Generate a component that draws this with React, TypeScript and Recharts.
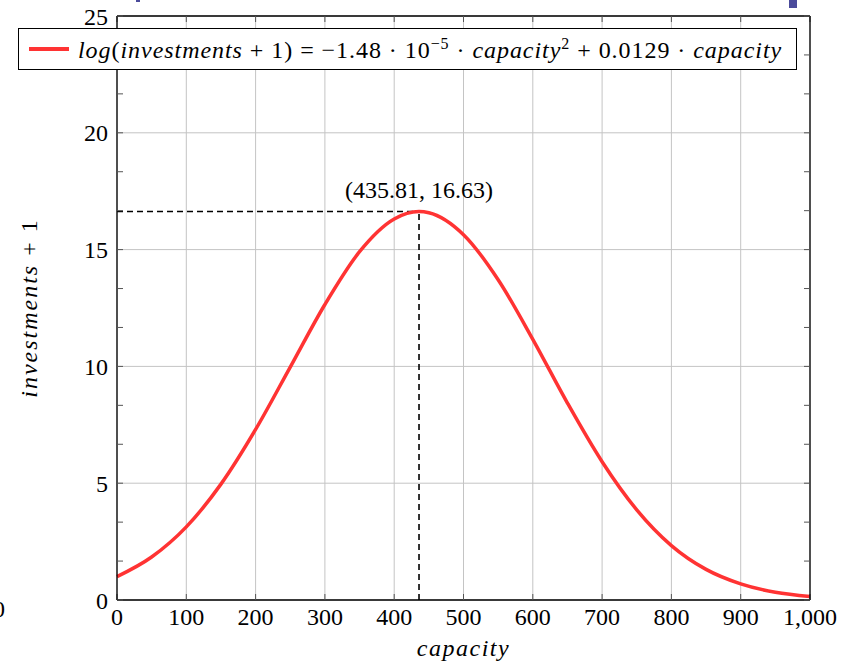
import { LineChart, Line, XAxis, YAxis, CartesianGrid, ReferenceLine, ReferenceDot } from 'recharts';

const FONT = '"Liberation Serif", "DejaVu Serif", serif';

// values
const capacity = [0, 50, 100, 150, 200, 250, 300, 350, 400, 435.81, 450, 500, 550, 600, 650, 700, 750, 800, 850, 900, 950, 1000];
const investments = [1.0, 1.84, 3.13, 4.96, 7.3, 9.97, 12.65, 14.91, 16.31, 16.63, 16.58, 15.64, 13.71, 11.16, 8.43, 5.92, 3.86, 2.33, 1.31, 0.69, 0.33, 0.15];

const xTicks = [0, 100, 200, 300, 400, 500, 600, 700, 800, 900, 1000];
const yTicks = [0, 5, 10, 15, 20, 25];
// pgfplots style: 2 minor ticks between majors
const xMinorTicks = Array.from({ length: 31 }, (_, i) => (i * 100) / 3);
const yMinorTicks = Array.from({ length: 16 }, (_, i) => (i * 5) / 3);

const peakX = 435.81;
const peakY = 16.63;

const data = capacity.map((c, i) => ({ capacity: c, investments: investments[i] }));

const noLabel = () => <g />;

const YTitle = ({ viewBox }: any) => {
  const cx = viewBox.x + 31;
  const cy = viewBox.y + viewBox.height / 2;
  return (
    <g>
      <text
        x={cx}
        y={cy}
        transform={`rotate(-90, ${cx}, ${cy})`}
        textAnchor="middle"
        dominantBaseline="middle"
        fontFamily={FONT}
        fontSize={24}
        letterSpacing={2}
        fill="#000"
      >
        <tspan fontStyle="italic">investments</tspan> + 1
      </text>
      <text x={-7} y={617} fontFamily={FONT} fontSize={24} fill="#000">0</text>
    </g>
  );
};

const XTitle = ({ viewBox }: any) => (
  <text
    x={viewBox.x + viewBox.width / 2}
    y={viewBox.y + 56}
    textAnchor="middle"
    fontFamily={FONT}
    fontSize={24}
    letterSpacing={1.5}
    fontStyle="italic"
    fill="#000"
  >
    capacity
  </text>
);

function LegendBox() {
  const it = { fontStyle: 'italic' as const };
  return (
    <div
      style={{
        position: 'absolute',
        left: 18,
        top: 28,
        width: 777,
        height: 40,
        border: '1px solid #000',
        background: '#fff',
        display: 'flex',
        alignItems: 'center',
        fontFamily: FONT,
        fontSize: 24,
        letterSpacing: 0.95,
        color: '#000',
        whiteSpace: 'nowrap',
      }}
    >
      <div style={{ width: 40, height: 3.5, background: '#ff3333', marginLeft: 10, marginRight: 9 }} />
      <span>
        <span style={it}>log</span>(<span style={it}>investments</span> + 1) = −1.48 · 10
        <sup style={{ fontSize: 16 }}>−5</sup> · <span style={it}>capacity</span>
        <sup style={{ fontSize: 16 }}>2</sup> + 0.0129 · <span style={it}>capacity</span>
      </span>
    </div>
  );
}

export default function App() {
  return (
    <div style={{ position: 'fixed', left: 0, top: 0, width: 843, height: 662, background: '#fff', overflow: 'hidden' }}>
      <LineChart width={843} height={662} data={data} margin={{ top: 16, right: 33, bottom: 0, left: 0 }}>
        <CartesianGrid stroke="#c4c4c4" strokeWidth={1} />
        <XAxis
          dataKey="capacity"
          type="number"
          domain={[0, 1000]}
          ticks={xTicks}
          tickFormatter={(v: number) => (v === 1000 ? '1,000' : String(v))}
          tickLine={false}
          axisLine={{ stroke: '#000', strokeWidth: 1.3 }}
          height={62}
          tick={{ fill: '#000', fontSize: 24, fontFamily: FONT }}
          label={{ content: XTitle }}
        />
        <XAxis
          xAxisId="minB"
          dataKey="capacity"
          type="number"
          domain={[0, 1000]}
          allowDataOverflow
          ticks={xMinorTicks}
          orientation="bottom"
          mirror
          axisLine={false}
          tickSize={6}
          tickLine={{ stroke: '#555', strokeWidth: 1 }}
          tick={noLabel}
        />
        <XAxis
          xAxisId="minT"
          dataKey="capacity"
          type="number"
          domain={[0, 1000]}
          allowDataOverflow
          ticks={xMinorTicks}
          orientation="top"
          mirror
          axisLine={{ stroke: '#000', strokeWidth: 1.3 }}
          tickSize={6}
          tickLine={{ stroke: '#555', strokeWidth: 1 }}
          tick={noLabel}
        />
        <YAxis
          type="number"
          domain={[0, 25]}
          ticks={yTicks}
          tickLine={false}
          axisLine={{ stroke: '#000', strokeWidth: 1.3 }}
          width={117}
          tickMargin={3}
          tick={{ fill: '#000', fontSize: 24, fontFamily: FONT }}
          label={{ content: YTitle }}
        />
        <YAxis
          yAxisId="minL"
          type="number"
          domain={[0, 25]}
          allowDataOverflow
          ticks={yMinorTicks}
          orientation="left"
          mirror
          axisLine={false}
          tickSize={6}
          tickLine={{ stroke: '#555', strokeWidth: 1 }}
          tick={noLabel}
        />
        <YAxis
          yAxisId="minR"
          type="number"
          domain={[0, 25]}
          allowDataOverflow
          ticks={yMinorTicks}
          orientation="right"
          mirror
          axisLine={{ stroke: '#000', strokeWidth: 1.3 }}
          tickSize={6}
          tickLine={{ stroke: '#555', strokeWidth: 1 }}
          tick={noLabel}
        />
        <ReferenceLine
          segment={[{ x: 0, y: peakY }, { x: peakX, y: peakY }]}
          stroke="#000"
          strokeWidth={1.6}
          strokeDasharray="6 4"
        />
        <ReferenceLine
          segment={[{ x: peakX, y: 0 }, { x: peakX, y: peakY }]}
          stroke="#000"
          strokeWidth={1.6}
          strokeDasharray="6 4"
        />
        <Line
          type="monotone"
          dataKey="investments"
          stroke="#ff3333"
          strokeWidth={3.5}
          dot={false}
          activeDot={false}
          isAnimationActive={false}
        />
        <ReferenceDot
          x={peakX}
          y={peakY}
          r={0}
          fill="none"
          stroke="none"
          label={{ value: '(435.81, 16.63)', position: 'top', offset: 14, fill: '#000', fontSize: 24, fontFamily: FONT }}
        />
      </LineChart>
      <LegendBox />
      <div style={{ position: 'absolute', left: 136, top: 0, width: 4, height: 2, background: '#4b4b9b' }} />
      <div style={{ position: 'absolute', left: 789, top: 0, width: 8, height: 8, background: '#4b4b9b' }} />
    </div>
  );
}
